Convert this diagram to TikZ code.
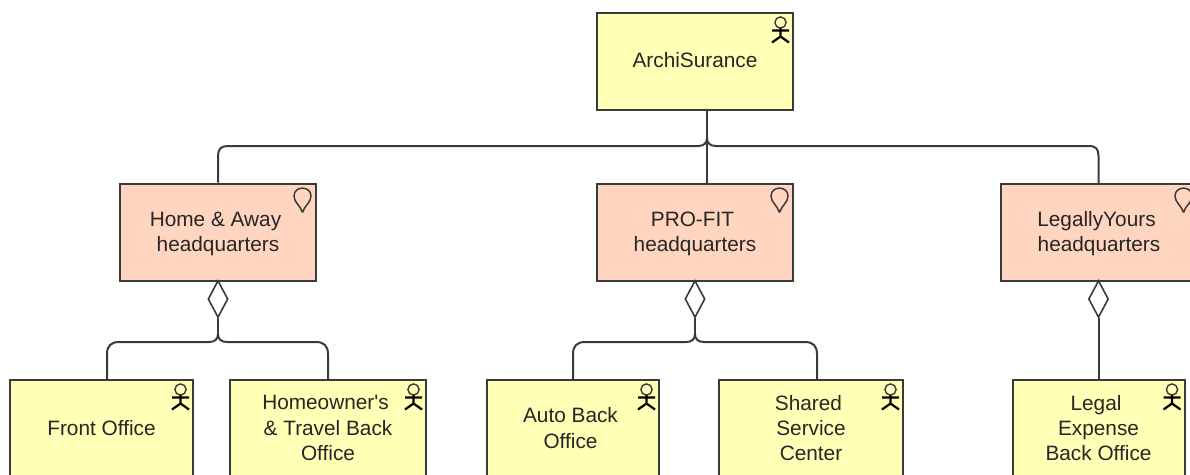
\documentclass[tikz,border=0pt]{standalone}
\usepackage{fontspec}
\setmainfont{Liberation Sans}
\usetikzlibrary{shapes.geometric}
\definecolor{elemyellow}{HTML}{FFFFB5}
\definecolor{elempink}{HTML}{FFD5C0}
\definecolor{linecol}{HTML}{3A3A3A}
\newcommand{\tsp}{\hspace*{5pt}}
\newcommand{\toprl}{\rule{0pt}{18.5pt}}
\tikzset{
  x=1pt,y=-1pt,
  elembox/.style={draw=linecol,line width=2pt,inner sep=0pt,align=center,
    font=\fontsize{20.8}{25.3}\selectfont,text=black!85},
  actorbox/.style={elembox,fill=elemyellow,minimum height=97pt},
  hqbox/.style={elembox,fill=elempink,minimum width=196pt,minimum height=97pt},
  conn/.style={draw=linecol,line width=2pt},
  agg/.style={shape=diamond,draw=linecol,line width=1.6pt,fill=white,minimum width=20pt,minimum height=37pt,inner sep=0pt},
  iconline/.style={draw=black,line width=2.2pt},
}
\newcommand{\actoricon}[1]{%
  \begin{scope}[shift={(#1)},x=1pt,y=-1pt]
    \draw[draw=linecol,line width=1.4pt] (-13.5,11) circle[radius=5.6];
    \draw[iconline] (-13.5,16.6) -- (-13.5,25) (-22,19) -- (-5,19)
      (-22,31) -- (-13.5,25) -- (-5,31);
  \end{scope}}
\newcommand{\bulbicon}[1]{%
  \begin{scope}[shift={(#1)},x=1pt,y=-1pt]
    \draw[draw=linecol,line width=1.5pt,line join=round]
      (-14.5,30) .. controls (-16.5,23) and (-23,20) .. (-23,13.5)
      .. controls (-23,3) and (-6,3) .. (-6,13.5)
      .. controls (-6,20) and (-12.5,23) .. (-14.5,30);
  \end{scope}}
\begin{document}
\begin{tikzpicture}
\useasboundingbox (0,0) rectangle (1190,474);
\clip (0,0) rectangle (1190,474);
\node[actorbox,minimum width=196pt] (top) at (695,61) {ArchiSurance\rule[-2pt]{0pt}{2pt}};
\node[hqbox] (hqa) at (218,232) {\toprl Home \& Away\tsp\\headquarters};
\node[hqbox] (hqb) at (695,232) {\toprl PRO-FIT\tsp\\headquarters};
\node[hqbox] (hqc) at (1099,232) {\toprl LegallyYours\tsp\\headquarters};
\node[actorbox,minimum width=183pt] (front) at (101.5,428) {Front Office};
\node[actorbox,minimum width=196pt] (home) at (328,428) {Homeowner\textquotesingle s\tsp\\\& Travel Back\tsp\\Office};
\node[actorbox,minimum width=172pt] (autob) at (573,428) {Auto Back\tsp\\Office\tsp};
\node[actorbox,minimum width=184pt] (shared) at (811,428) {Shared\tsp\\Service\tsp\\Center};
\node[actorbox,minimum width=172pt] (legal) at (1098.5,428) {Legal\tsp\\Expense\tsp\\Back Office};
\actoricon{top.north east}
\actoricon{front.north east}
\actoricon{home.north east}
\actoricon{autob.north east}
\actoricon{shared.north east}
\actoricon{legal.north east}
\bulbicon{hqa.north east}
\bulbicon{hqb.north east}
\bulbicon{hqc.north east}
\coordinate (jtop) at (707,138);
\coordinate (ja) at (218,334);
\coordinate (jb) at (695,334);
\coordinate (ca) at (107,379);
\coordinate (cb) at (328,379);
\coordinate (cc) at (573,379);
\coordinate (cd) at (817,379);
\node[agg] (da) at (218,299) {};
\node[agg] (db) at (695,299) {};
\node[agg] (dc) at (1098.5,299) {};
\draw[conn] (top.south -| jtop) -- (hqb.north -| jtop);
\draw[conn] (jtop) .. controls (707,143) and (704,146) .. (698,146)
  -- (228,146) .. controls (221,146) and (218,149) .. (218,156) -- (hqa.north);
\draw[conn] (jtop) .. controls (707,143) and (710,146) .. (716,146)
  -- (1089,146) .. controls (1096,146) and (1098.5,149) .. (1098.5,156) -- (1098.5,183);
\draw[conn] (da.south) -- (ja);
\draw[conn] (ja) .. controls (218,339) and (215,342) .. (209,342) -- (119,342)
  .. controls (111,342) and (107,346) .. (107,354) -- (ca);
\draw[conn] (ja) .. controls (218,339) and (221,342) .. (227,342) -- (316,342)
  .. controls (324,342) and (328,346) .. (328,354) -- (cb);
\draw[conn] (db.south) -- (jb);
\draw[conn] (jb) .. controls (695,339) and (692,342) .. (686,342) -- (585,342)
  .. controls (577,342) and (573,346) .. (573,354) -- (cc);
\draw[conn] (jb) .. controls (695,339) and (698,342) .. (704,342) -- (805,342)
  .. controls (813,342) and (817,346) .. (817,354) -- (cd);
\draw[conn] (dc.south) -- (legal.north);
\end{tikzpicture}
\end{document}
